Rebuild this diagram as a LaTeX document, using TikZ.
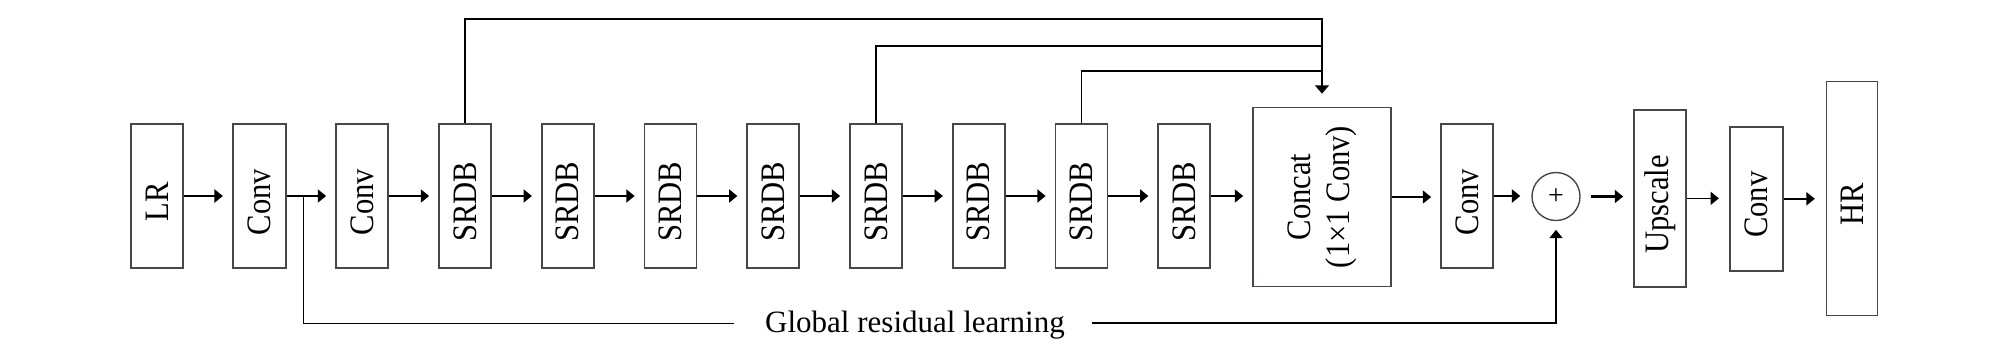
\documentclass[tikz,border=0pt]{standalone}
\usepackage{fontspec}
\setmainfont{Liberation Serif}
\usetikzlibrary{arrows.meta,calc}
\definecolor{boxgray}{RGB}{66,72,82}
\newcommand{\vlab}[1]{\rotatebox{90}{\scalebox{1}[1.12]{#1\hspace{6pt}}}}
\begin{document}
\begin{tikzpicture}[x=0.5pt,y=-0.5pt,
  blk/.style={draw=boxgray,line width=0.85pt,fill=white,inner sep=0pt,
    minimum width=26pt,minimum height=72pt,font=\fontsize{15.3}{17.4}\selectfont},
  flow/.style={line width=1.1pt,-{Triangle[length=4.2pt,width=6.5pt]},shorten >=4.5pt},
  thinline/.style={line width=0.8pt},
  thinflow/.style={line width=0.8pt,-{Triangle[length=4.2pt,width=6.5pt]},shorten >=5pt},
]
\path[use as bounding box] (0,0) rectangle (2008,344);

% main chain
\node[blk] (lr) at (156.8,196) {\vlab{LR}};
\node[blk,minimum width=26.5pt] (c1) at (259.2,196) {\vlab{Conv}};
\node[blk] (c2) at (362,196) {\vlab{Conv}};
\foreach \i in {1,...,8}{
  \node[blk] (s\i) at ({465+102.75*(\i-1)},196) {\vlab{SRDB}};
}
\node[blk,minimum width=69pt,minimum height=89.5pt] (cc) at (1322,197)
  {\rotatebox{90}{\scalebox{1}[1.12]{\begin{tabular}{@{}c@{}}Concat\\(1×1 Conv)\end{tabular}}}};
\node[blk] (c3) at (1467,196) {\vlab{Conv}};
\node[draw=boxgray,line width=0.7pt,circle,minimum size=24pt,inner sep=0pt,
  font=\fontsize{14}{14}\selectfont] (add) at (1556,196.5) {+};
\node[blk,minimum height=88.5pt] (up) at (1660,198.3) {\vlab{Upscale}};
\node[blk,minimum width=26.5pt] (c4) at (1756.3,198.8) {\vlab{Conv}};
\node[blk,minimum width=25.5pt,minimum height=117pt] (hr) at (1852,198.5) {\vlab{HR}};

% main arrows
\draw[flow] (lr.east) -- (lr.east -| c1.west);
\draw[flow] (c1.east) -- (c1.east -| c2.west);
\draw[flow] (c2.east) -- (c2.east -| s1.west);
\foreach \i/\j in {1/2,2/3,3/4,4/5,5/6,6/7,7/8}{
  \draw[flow] (s\i.east) -- (s\i.east -| s\j.west);
}
\draw[flow] (s8.east) -- (s8.east -| cc.west);
\draw[flow] (cc.east) -- (cc.east -| c3.west);
\draw[flow,shorten >=5.5pt] (c3.east) -- (c3.east -| add.west);
\draw[flow,shorten <=5pt,shorten >=5pt] (add.east) -- (add.east -| up.west);
\draw[thinflow] (up.east) -- (up.east -| c4.west);
\draw[thinflow,shorten >=5.4pt] (c4.east) -- (c4.east -| hr.west);

% dense connections to concat
\coordinate (j1) at (1322,19);
\coordinate (j2) at (1322,45.7);
\coordinate (j3) at (1322,70.7);
\draw[thinline,-{Triangle[length=4.2pt,width=7pt]},shorten >=6.5pt] (s1.north) |- (j1) -- (cc.north);
\draw[thinline] (s5.north) |- (j2);
\draw[thinline] (s7.north) |- (j3);

% global residual learning
\coordinate (br) at (303.3,196);
\coordinate (gl) at (303.3,323.3);
\node[inner sep=0pt,anchor=base,font=\fontsize{15.5}{18}\selectfont] (glr) at (915,332.7) {Global residual learning};
\draw[line width=0.8pt] (br) -- (gl) -- ($(gl -| glr.west)+(-31,0)$);
\draw[line width=0.9pt,-{Triangle[length=4.2pt,width=6.5pt]},shorten >=4.3pt]
  ($(gl -| glr.east)+(26.7,0)$) -| (add.south);
\end{tikzpicture}
\end{document}
